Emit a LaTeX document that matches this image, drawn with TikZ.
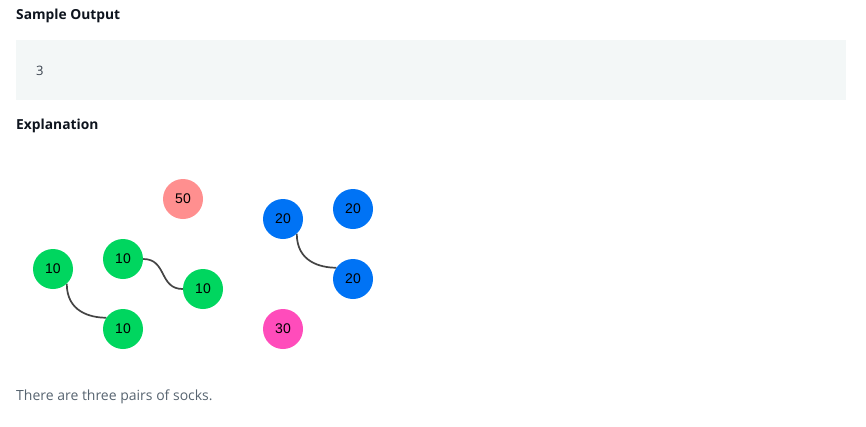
\documentclass[tikz,border=0pt]{standalone}
\usepackage{fontspec}
\setmainfont{Open Sans}
\newfontfamily\sockfont{Liberation Sans}
\usepackage{xcolor}
\usepackage{tikz}
\usetikzlibrary{positioning,calc}
\definecolor{headblack}{RGB}{14,20,30}
\definecolor{textgray}{RGB}{87,100,112}
\definecolor{codegray}{RGB}{57,66,78}
\definecolor{codebg}{RGB}{243,247,247}
\definecolor{sockgreen}{RGB}{0,214,95}
\definecolor{sockblue}{RGB}{0,115,245}
\definecolor{sockred}{RGB}{255,143,143}
\definecolor{sockpink}{RGB}{255,76,187}
\definecolor{pairline}{RGB}{68,68,68}

\begin{document}
\begin{tikzpicture}[x=1pt, y=1pt,
    sock/.style={circle, minimum size=40pt, inner sep=0pt, font=\sockfont\fontsize{14}{15}\selectfont},
    heading/.style={anchor=base west, inner sep=0pt, text=headblack, font=\bfseries\fontsize{13.8}{15}\selectfont},
    pair/.style={draw=pairline, line width=1.7pt}
]
    \useasboundingbox (0,0) rectangle (866,-426);
    \node[heading] (title) at (16,-19) {Sample Output};
    \fill[codebg] (16,-40) rectangle (846,-100);
    \node[anchor=base west, inner sep=0pt, text=codegray, font=\fontsize{13}{15}\selectfont] (result) at (36,-75) {3};
    \node[heading] (expl) at (16,-129) {Explanation};

    % pairs are drawn first, socks sit on top
    \node[sock] (ga) at (53,-269) {};
    \node[sock] (gb) at (123,-329) {};
    \node[sock] (gc) at (123,-259) {};
    \node[sock] (gd) at (203,-289) {};
    \node[sock] (ba) at (283,-219) {};
    \node[sock] (bb) at (353,-279) {};
    \draw[pair] (ga.-47) .. controls +(0,-28) and +(-16,0) .. (gb.146);
    \draw[pair] (gc.east) .. controls +(24,0) and +(-24,0) .. (gd.west);
    \draw[pair] (ba.-47) .. controls +(0,-28) and +(-16,0) .. (bb.146);

    \node[sock, fill=sockred] (red) at (183,-199) {50};
    \node[sock, fill=sockgreen] at (ga) {10};
    \node[sock, fill=sockgreen] at (gb) {10};
    \node[sock, fill=sockgreen] at (gc) {10};
    \node[sock, fill=sockgreen] at (gd) {10};
    \node[sock, fill=sockblue] at (ba) {20};
    \node[sock, fill=sockblue] at (bb) {20};
    \node[sock, fill=sockblue] (bc) at (353,-209) {20};
    \node[sock, fill=sockpink] (pink) at (283,-329) {30};

    \node[anchor=base west, inner sep=0pt, text=textgray, font=\fontsize{14}{16}\selectfont] (note) at (16,-400) {There are three pairs of socks.};
\end{tikzpicture}
\end{document}
